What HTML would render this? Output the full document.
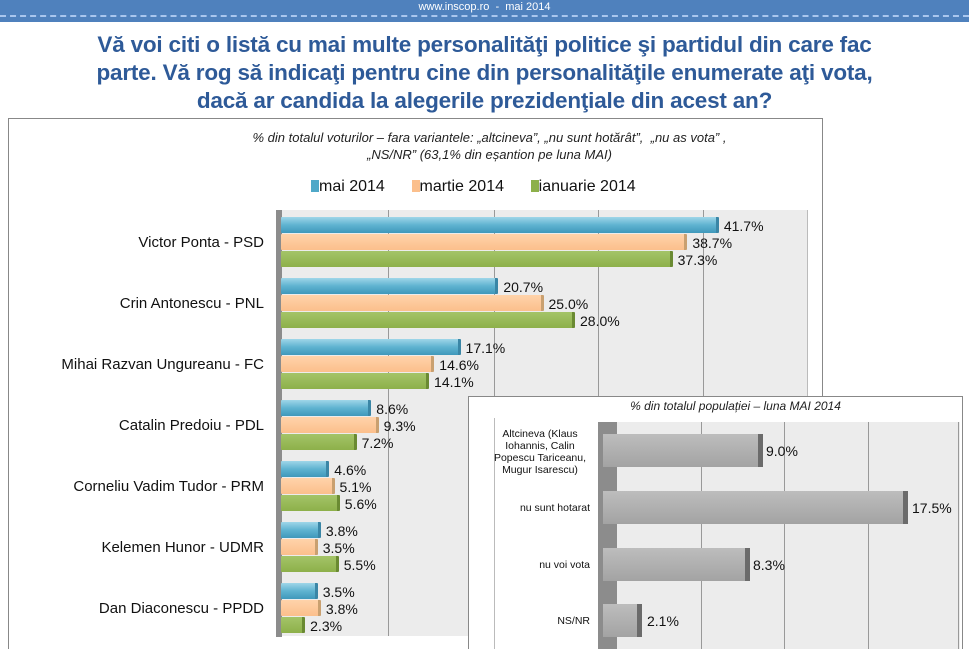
<!DOCTYPE html>
<html><head><meta charset="utf-8"><style>
*{margin:0;padding:0;box-sizing:border-box}
body{width:969px;height:649px;background:#fff;position:relative;overflow:hidden;font-family:"Liberation Sans",sans-serif}
.a{position:absolute}
.hdr{left:0;top:0;width:969px;height:22px;background:#4f81bd}
.title{left:0;top:31px;width:969px;text-align:center;color:#2e5a98;font-weight:bold;font-size:22.5px;line-height:28px;letter-spacing:-0.2px}
.lbl{font-size:15px;color:#111;text-align:right;width:260px;left:4px}
.bar{height:16px;border-radius:1px}
.b{background:linear-gradient(#9fd6e8,#5fb3d0 50%,#3f98bb);border-right:3px solid #3a86a6}
.o{background:linear-gradient(#ffd3aa,#fbbf8c);border-right:3px solid #c9a070}
.g{background:linear-gradient(#a4c468,#8db04a);border-right:3px solid #6a8a32}
.v{font-size:14px;color:#111}
.grid{width:1px;background:#999}
.ib{height:33px;background:linear-gradient(#bdbdbd,#a3a3a3);border-right:5px solid #6b6b6b}
.il{font-size:10.5px;color:#111;text-align:center;width:104px;left:488px;line-height:12px}
</style></head><body>
<div class="a hdr"></div>
<div class="a" style="left:0;top:1px;width:969px;text-align:center;color:#fff;font-size:11px">www.inscop.ro &nbsp;- &nbsp;mai 2014</div>
<div class="a" style="left:0;top:15px;width:969px;border-top:2px dashed #a9c6ee"></div>
<div class="a title">Vă voi citi o listă cu mai multe personalităţi politice şi partidul din care fac<br>parte. Vă rog să indicaţi pentru cine din personalităţile enumerate aţi vota,<br>dacă ar candida la alegerile prezidenţiale din acest an?</div>

<div class="a" style="left:8px;top:118px;width:815px;height:531px;border:1px solid #888;border-bottom:none"></div>
<div class="a" style="left:0;top:129px;width:969px;padding-left:10px;text-align:center;font-size:13px;font-style:italic;color:#222;line-height:17px">% din totalul voturilor – fara variantele: „altcineva”, „nu sunt hotărât”, &nbsp;„nu as vota” ,<br>„NS/NR” (63,1% din eșantion pe luna MAI)</div>
<div class="a" style="left:311px;top:178px;font-size:16px;color:#111;white-space:nowrap">
<span style="display:inline-block;width:8px;height:12px;background:#4fa8c8;vertical-align:-1px"></span>mai 2014 &nbsp;&nbsp;&nbsp;&nbsp;
<span style="display:inline-block;width:8px;height:12px;background:#fbbf8c;vertical-align:-1px"></span>martie 2014 &nbsp;&nbsp;&nbsp;&nbsp;
<span style="display:inline-block;width:8px;height:12px;background:#8db04a;vertical-align:-1px"></span>ianuarie 2014</div>

<div class="a" style="left:282px;top:210px;width:526px;height:426px;background:#ececec;border-right:1px solid #bbb"></div>
<div class="a grid" style="left:388px;top:210px;height:426px"></div>
<div class="a grid" style="left:494px;top:210px;height:426px"></div>
<div class="a grid" style="left:598px;top:210px;height:426px"></div>
<div class="a grid" style="left:703px;top:210px;height:426px"></div>
<div class="a" style="left:276px;top:210px;width:6px;height:427px;background:#8c8c8c"></div>

<div id="bars"></div>
<script>
var d=[["Victor Ponta - PSD",41.7,38.7,37.3],["Crin Antonescu - PNL",20.7,25.0,28.0],["Mihai Razvan Ungureanu - FC",17.1,14.6,14.1],["Catalin Predoiu - PDL",8.6,9.3,7.2],["Corneliu Vadim Tudor - PRM",4.6,5.1,5.6],["Kelemen Hunor - UDMR",3.8,3.5,5.5],["Dan Diaconescu - PPDD",3.5,3.8,2.3]];
var h="",cls=["b","o","g"];
d.forEach(function(r,i){var top=217+i*61;
h+='<div class="a lbl" style="top:'+(top+17)+'px">'+r[0]+'</div>';
for(var k=0;k<3;k++){var w=r[k+1]*10.5,y=top+k*17;
h+='<div class="a bar '+cls[k]+'" style="left:281px;top:'+y+'px;width:'+w+'px"></div>';
h+='<div class="a v" style="left:'+(281+w+5)+'px;top:'+(y+1)+'px">'+r[k+1].toFixed(1)+'%</div>';}
});
document.getElementById("bars").innerHTML=h;
</script>

<div class="a" style="left:468px;top:396px;width:495px;height:253px;background:#fff;border:1px solid #888;border-bottom:none"></div>
<div class="a" style="left:468px;top:399px;width:495px;text-align:center;font-size:12px;font-style:italic;color:#222;padding-left:40px">% din totalul populației – luna MAI 2014</div>
<div class="a" style="left:617px;top:422px;width:343px;height:227px;background:#ececec"></div>
<div class="a grid" style="left:701px;top:422px;height:227px"></div>
<div class="a grid" style="left:784px;top:422px;height:227px"></div>
<div class="a grid" style="left:868px;top:422px;height:227px"></div>
<div class="a grid" style="left:958px;top:422px;height:227px"></div>
<div class="a" style="left:598px;top:422px;width:19px;height:227px;background:#8c8c8c"></div>
<div class="a" style="left:494px;top:418px;width:1px;height:231px;background:#bbb"></div>

<div class="a ib" style="left:603px;top:434px;width:160px"></div>
<div class="a v" style="left:766px;top:443px">9.0%</div>
<div class="a il" style="top:428px">Altcineva (Klaus Iohannis, Calin Popescu Tariceanu, Mugur Isarescu)</div>
<div class="a ib" style="left:603px;top:491px;width:305px"></div>
<div class="a v" style="left:912px;top:500px">17.5%</div>
<div class="a il" style="top:502px;left:478px;width:112px;text-align:right">nu sunt hotarat</div>
<div class="a ib" style="left:603px;top:548px;width:147px"></div>
<div class="a v" style="left:753px;top:557px">8.3%</div>
<div class="a il" style="top:559px;left:478px;width:112px;text-align:right">nu voi vota</div>
<div class="a ib" style="left:603px;top:604px;width:39px"></div>
<div class="a v" style="left:647px;top:613px">2.1%</div>
<div class="a il" style="top:615px;left:478px;width:112px;text-align:right">NS/NR</div>
</body></html>
